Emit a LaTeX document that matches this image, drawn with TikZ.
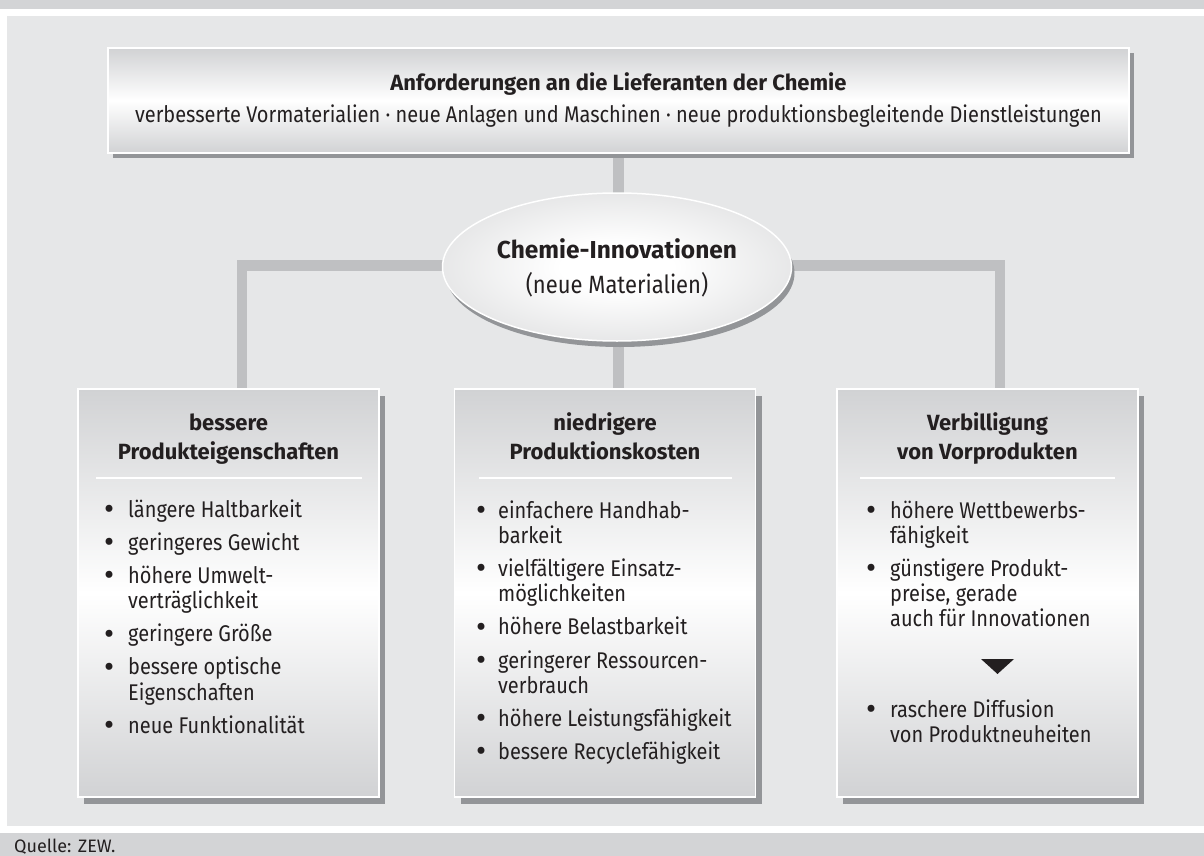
\documentclass[tikz,border=0pt]{standalone}
\usepackage{fontspec}
\setmainfont{Fira Sans}[FakeStretch=0.88]
\newfontfamily\boldfam{Fira Sans}
\newfontfamily\plainfam{Fira Sans}
\usetikzlibrary{shapes.geometric,shadows,calc}
\pgfdeclarelayer{back}
\pgfdeclarelayer{mid}
\pgfsetlayers{back,mid,main}

\definecolor{bargray}{HTML}{D3D4D6}
\definecolor{bggray}{HTML}{E6E7E8}
\definecolor{conngray}{HTML}{BFC0C2}
\definecolor{shadowgray}{HTML}{939598}
\definecolor{boxgray}{HTML}{D1D2D4}
\definecolor{ellgray}{HTML}{C4C5C7}
\definecolor{txt}{HTML}{231F20}

% soft highlight for the central ellipse
\pgfdeclareradialshading{ellshade}{\pgfpoint{0bp}{0bp}}{%
  color(0bp)=(white); color(8bp)=(white); color(50bp)=(ellgray); color(72bp)=(ellgray)}

% list bullet: a slightly enlarged round dot in a fixed-width slot
\newcommand{\bl}{\makebox[12pt]{\raisebox{-2.4pt}{\scalebox{1.55}[1.38]{\textbullet}}}}

\begin{document}
\begin{tikzpicture}[x=1pt,y=-1pt,
  body/.style={font=\fontsize{22.7}{25}\selectfont, text=txt, inner sep=0pt},
  head/.style={font=\boldfam\bfseries\fontsize{22}{29}\selectfont, text=txt, inner sep=0pt},
  conn/.style={draw=conngray, line width=10.5pt, line join=miter},
  topbox/.style={draw=white, line width=1.2pt, top color=boxgray, bottom color=boxgray,
    middle color=white, minimum width=1021pt, minimum height=105pt, inner sep=0pt,
    drop shadow={shadow xshift=5pt, shadow yshift=-5pt, fill=shadowgray, opacity=1}},
  panel/.style={draw=white, line width=1.2pt, top color=boxgray, bottom color=boxgray,
    middle color=white, minimum width=301pt, minimum height=408pt, inner sep=0pt,
    drop shadow={shadow xshift=6pt, shadow yshift=-7pt, fill=shadowgray, opacity=1}},
  ellbox/.style={ellipse, draw=white, line width=1.5pt, shading=ellshade,
    minimum width=349pt, minimum height=148pt, inner sep=0pt,
    drop shadow={shadow xshift=3pt, shadow yshift=-6pt, fill=shadowgray, opacity=1}},
  rule/.style={draw=white, line width=2pt}
]
\useasboundingbox (0,0) rectangle (1204,856);

% page bands
\begin{pgfonlayer}{back}
  \fill[bargray] (0,0) rectangle (1204,9);
  \fill[bggray] (7,16) rectangle (1204,826);
  \fill[bargray] (0,833) rectangle (1204,856);
\end{pgfonlayer}

% top box
\node[topbox] (top) at (618.5,100.5) {};
\node[head, anchor=base] (toptitle) at (618.5,91) {Anforderungen an die Lieferanten der Chemie};
\node[body, anchor=base] (topsub) at (618.5,123)
  {verbesserte Vormaterialien · neue Anlagen und Maschinen · neue produktionsbegleitende Dienstleistungen};

% central ellipse
\node[ellbox] (ell) at (617,267) {};
\node[font=\boldfam\bfseries\fontsize{24.5}{28}\selectfont, text=txt, inner sep=0pt, anchor=base]
  (elltitle) at (617,258) {Chemie-Innovationen};
\node[font=\fontsize{25}{28}\selectfont, text=txt, inner sep=0pt, anchor=base]
  (ellsub) at (617,293) {(neue Materialien)};

% three panels
\node[panel] (lbox) at (228.5,593) {};
\node[panel] (mbox) at (605,593) {};
\node[panel] (rbox) at (987.5,593) {};

% connectors
\begin{pgfonlayer}{mid}
  \draw[conn] (top.south) -- (top.south |- mbox.north);
  \draw[conn] ([xshift=13.5pt]lbox.north) |- ([yshift=1.5pt]ell.center) -| ([xshift=12.5pt]rbox.north);
\end{pgfonlayer}

% panel headings
\node[head, anchor=base] (lhead) at (228.5,430)
  {\begin{tabular}[t]{@{}c@{}}bessere\\Produkteigenschaften\end{tabular}};
\node[head, anchor=base] (mhead) at (605,430)
  {\begin{tabular}[t]{@{}c@{}}niedrigere\\Produktionskosten\end{tabular}};
\node[head, anchor=base] (rhead) at (987.5,430)
  {\begin{tabular}[t]{@{}c@{}}Verbilligung\\von Vorprodukten\end{tabular}};

% separator rules
\draw[rule] ($(lbox.north west)+(19,90)$) -- ($(lbox.north east)+(-18,90)$);
\draw[rule] ($(mbox.north west)+(25,90)$) -- ($(mbox.north east)+(-24,90)$);
\draw[rule] ($(rbox.north west)+(24,90)$) -- ($(rbox.north east)+(-24,90)$);

% bullet lists
\node[body, anchor=base west] (llist) at (103,517)
  {\begin{tabular}[t]{@{}c@{\hspace{13pt}}l@{}}
   \bl & längere Haltbarkeit\\[8pt]
   \bl & geringeres Gewicht\\[8pt]
   \bl & höhere Umwelt-\\
       & verträglichkeit\\[8pt]
   \bl & geringere Größe\\[8pt]
   \bl & bessere optische\\
       & Eigenschaften\\[8pt]
   \bl & neue Funktionalität
   \end{tabular}};
\node[body, anchor=base west] (mlist) at (475,518)
  {\begin{tabular}[t]{@{}c@{\hspace{11pt}}l@{}}
   \bl & einfachere Handhab-\\
       & barkeit\\[8pt]
   \bl & vielfältigere Einsatz-\\
       & möglichkeiten\\[8pt]
   \bl & höhere Belastbarkeit\\[8pt]
   \bl & geringerer Ressourcen-\\
       & verbrauch\\[8pt]
   \bl & höhere Leistungsfähigkeit\\[8pt]
   \bl & bessere Recyclefähigkeit
   \end{tabular}};
\node[body, anchor=base west] (rlist) at (865,518)
  {\begin{tabular}[t]{@{}c@{\hspace{13pt}}l@{}}
   \bl & höhere Wettbewerbs-\\
       & fähigkeit\\[8pt]
   \bl & günstigere Produkt-\\
       & preise, gerade\\
       & auch für Innovationen
   \end{tabular}};
\fill[txt] (981,659) -- (1014,659) -- (997.5,674) -- cycle;
\node[body, anchor=base west] (rlist2) at (865,717)
  {\begin{tabular}[t]{@{}c@{\hspace{13pt}}l@{}}
   \bl & raschere Diffusion\\
       & von Produktneuheiten
   \end{tabular}};

% source line
\node[font=\plainfam\fontsize{18}{20}\selectfont, text=txt, inner sep=0pt, anchor=base west]
  (src) at (14,852) {Quelle: ZEW.};
\end{tikzpicture}
\end{document}
